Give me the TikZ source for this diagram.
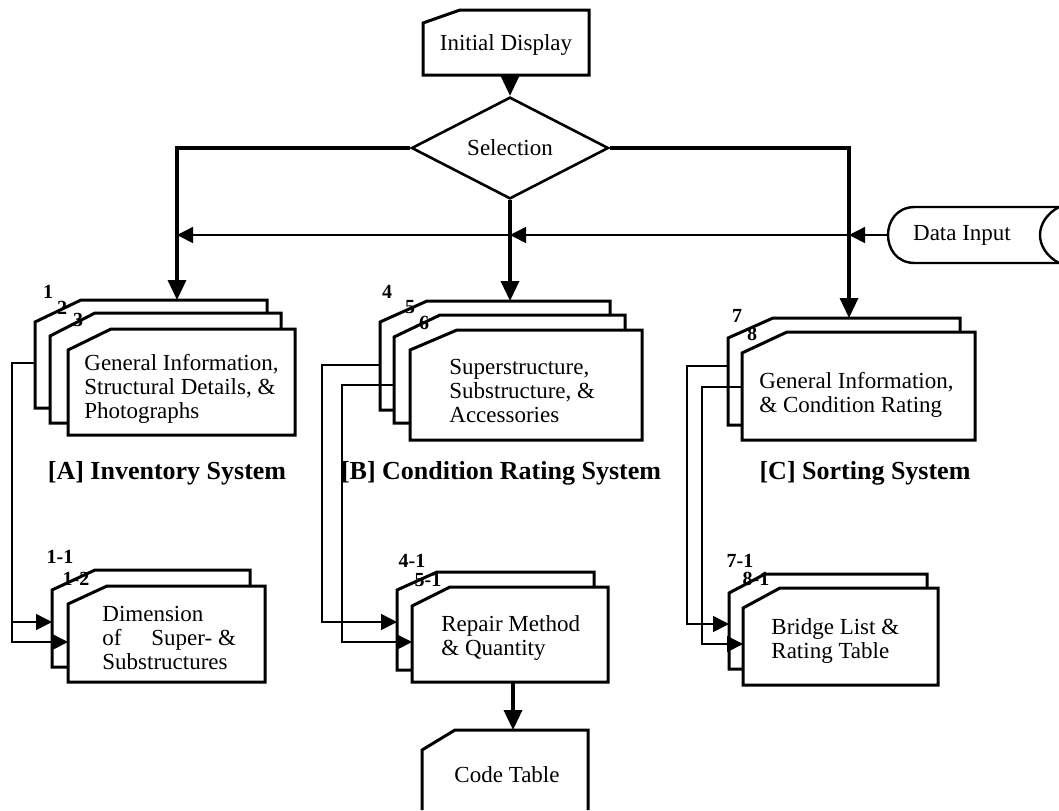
\documentclass[tikz,border=0pt]{standalone}
\usepackage{fontspec}
\setmainfont{Liberation Serif}
\usetikzlibrary{calc,fit,shapes.geometric,arrows.meta}

\tikzset{
  cardline/.style={line width=1.5pt, fill=white, line join=miter},
  flow/.style={line width=1.7pt, -{Triangle[length=10pt,width=9pt]}},
  link/.style={line width=0.8pt, -{Triangle[length=8pt,width=8pt]}},
  body/.style={font=\fontsize{11.5}{12}\selectfont, align=left, inner sep=0pt},
  num/.style={font=\fontsize{10}{10}\selectfont\bfseries, inner sep=0pt},
  systitle/.style={font=\fontsize{13}{14}\selectfont\bfseries, inner sep=0pt},
  holder/.style={inner sep=0pt, outer sep=0pt},
}

% card with a cut top-left corner: name, x1, y1, x2, y2, cut x, cut y
\newcommand\card[7]{%
  \node[holder, fit={(#2,#3)(#4,#5)}] (#1) {};
  \filldraw[cardline] ($(#1.north west)+(0,#7)$) -- ($(#1.north west)+(#6,0)$)
    -- (#1.north east) -- (#1.south east) -- (#1.south west) -- cycle;
}

\begin{document}
\begin{tikzpicture}[x=0.5pt, y=-0.5pt]
\useasboundingbox (0,0) rectangle (1059,810);

% top of the chart
\card{init}{423}{10}{589}{75}{37}{13}
\node[body] (tinit) at (506,45) {Initial Display};
\node[diamond, draw, line width=1.3pt, minimum width=98.5pt, minimum height=35.5pt,
      inner sep=0pt, font=\fontsize{11.5}{12}\selectfont] (sel) at (510,148) {Selection};

% data input (stored data symbol, cut off at the right)
\node[holder, fit={(888,207)(1059,263)}] (data) {};
\draw[line width=1.2pt] (1059,207) -- (915,207) .. controls (896,207) and (888,222) .. (888,235)
  .. controls (888,248) and (896,263) .. (915,263) -- (1059,263);
\draw[line width=1.2pt] (1059,207) .. controls (1046,214) and (1040,225) .. (1040,235)
  .. controls (1040,245) and (1046,256) .. (1059,263);
\node[body] (tdata) at (962,235) {Data Input};

% [A] inventory system
\card{A1}{35}{300}{267}{408}{46}{22}
\card{A2}{50}{313}{281}{423}{45}{23}
\card{A3}{68}{329}{295}{435}{43}{21}
\node[body, anchor=west] (tA) at (84,389) {General Information,\\Structural Details, \&\\Photographs};
\node[systitle] (titleA) at (167,473) {[A] Inventory System};

\card{A11}{52}{570}{250}{667}{43}{20}
\card{A12}{68}{586}{265}{682}{39}{18}
\node[body, anchor=west] (tA1) at (102,638) {Dimension\\of\hspace{1.3em}Super- \&\\Substructures};

% [B] condition rating system
\card{B4}{380}{301}{610}{410}{47}{21}
\card{B5}{394}{315}{625}{423}{46}{22}
\card{B6}{410}{330}{642}{440}{47}{20}
\node[body, anchor=west] (tB) at (449,391) {Superstructure,\\Substructure, \&\\Accessories};
\node[systitle] (titleB) at (501,473) {[B] Condition Rating System};

\card{B41}{397}{572}{594}{670}{40}{18}
\card{B51}{412}{587}{608}{682}{38}{19}
\node[body, anchor=west] (tB1) at (441,638) {Repair Method\\\& Quantity};

\node[holder, fit={(422,730)(588,810)}] (code) {};
\draw[cardline] (code.south west) -- ($(code.north west)+(0,20)$) -- ($(code.north west)+(33,0)$)
  -- (code.north east) -- (code.south east);
\node[body] (tcode) at (507,775) {Code Table};

% [C] sorting system
\card{C7}{728}{318}{960}{425}{45}{20}
\card{C8}{742}{332}{975}{440}{45}{21}
\node[body, anchor=west] (tC) at (759,395) {General Information,\\\& Condition Rating};
\node[systitle] (titleC) at (865,473) {[C] Sorting System};

\card{C71}{729}{574}{927}{669}{36}{19}
\card{C81}{743}{588}{938}{685}{37}{20}
\node[body, anchor=west] (tC1) at (771,641) {Bridge List \&\\Rating Table};

% main flow
\draw[flow] (init.south -| sel.north) -- (sel.north);
\draw[flow] (sel.west) -| (A1.north -| 177,0);
\draw[flow] (sel.south) -- (sel.south |- B4.north);
\draw[flow] (sel.east) -| (C7.north -| 849,0);
\draw[flow] (B51.south -| 513,0) -- (code.north -| 513,0);

% data input feeds
\draw[link] (data.west) -- (data.west -| 849,0);
\draw[link] (data.west -| 849,0) -- (data.west -| 510,0);
\draw[link] (data.west -| 510,0) -- (data.west -| 177,0);

% links to detail sheets
\draw[link] (A1.west |- 0,363) -- (12,363) -- (12,642) -- (A12.west |- 0,642);
\draw[link] (12,622) -- (A11.west |- 0,622);
\draw[link] (B4.west |- 0,365) -- (322,365) -- (322,622) -- (B41.west |- 0,622);
\draw[link] (B5.west |- 0,385) -- (342,385) -- (342,642) -- (B51.west |- 0,642);
\draw[link] (C7.west |- 0,366) -- (687,366) -- (687,624) -- (C71.west |- 0,624);
\draw[link] (C8.west |- 0,387) -- (702,387) -- (702,644) -- (C81.west |- 0,644);

% sheet numbers
\node[num] (n1) at (48,292) {1};
\node[num] (n2) at (62,308) {2};
\node[num] (n3) at (78,320) {3};
\node[num] (n4) at (387,292) {4};
\node[num] (n5) at (410,307) {5};
\node[num] (n6) at (424,323) {6};
\node[num] (n7) at (737,316) {7};
\node[num] (n8) at (752,334) {8};
\node[num] (n11) at (60,557) {1-1};
\node[num] (n12) at (76,579) {1-2};
\node[num] (n41) at (412,561) {4-1};
\node[num] (n51) at (428,580) {5-1};
\node[num] (n71) at (740,561) {7-1};
\node[num] (n81) at (756,579) {8-1};
\end{tikzpicture}
\end{document}
